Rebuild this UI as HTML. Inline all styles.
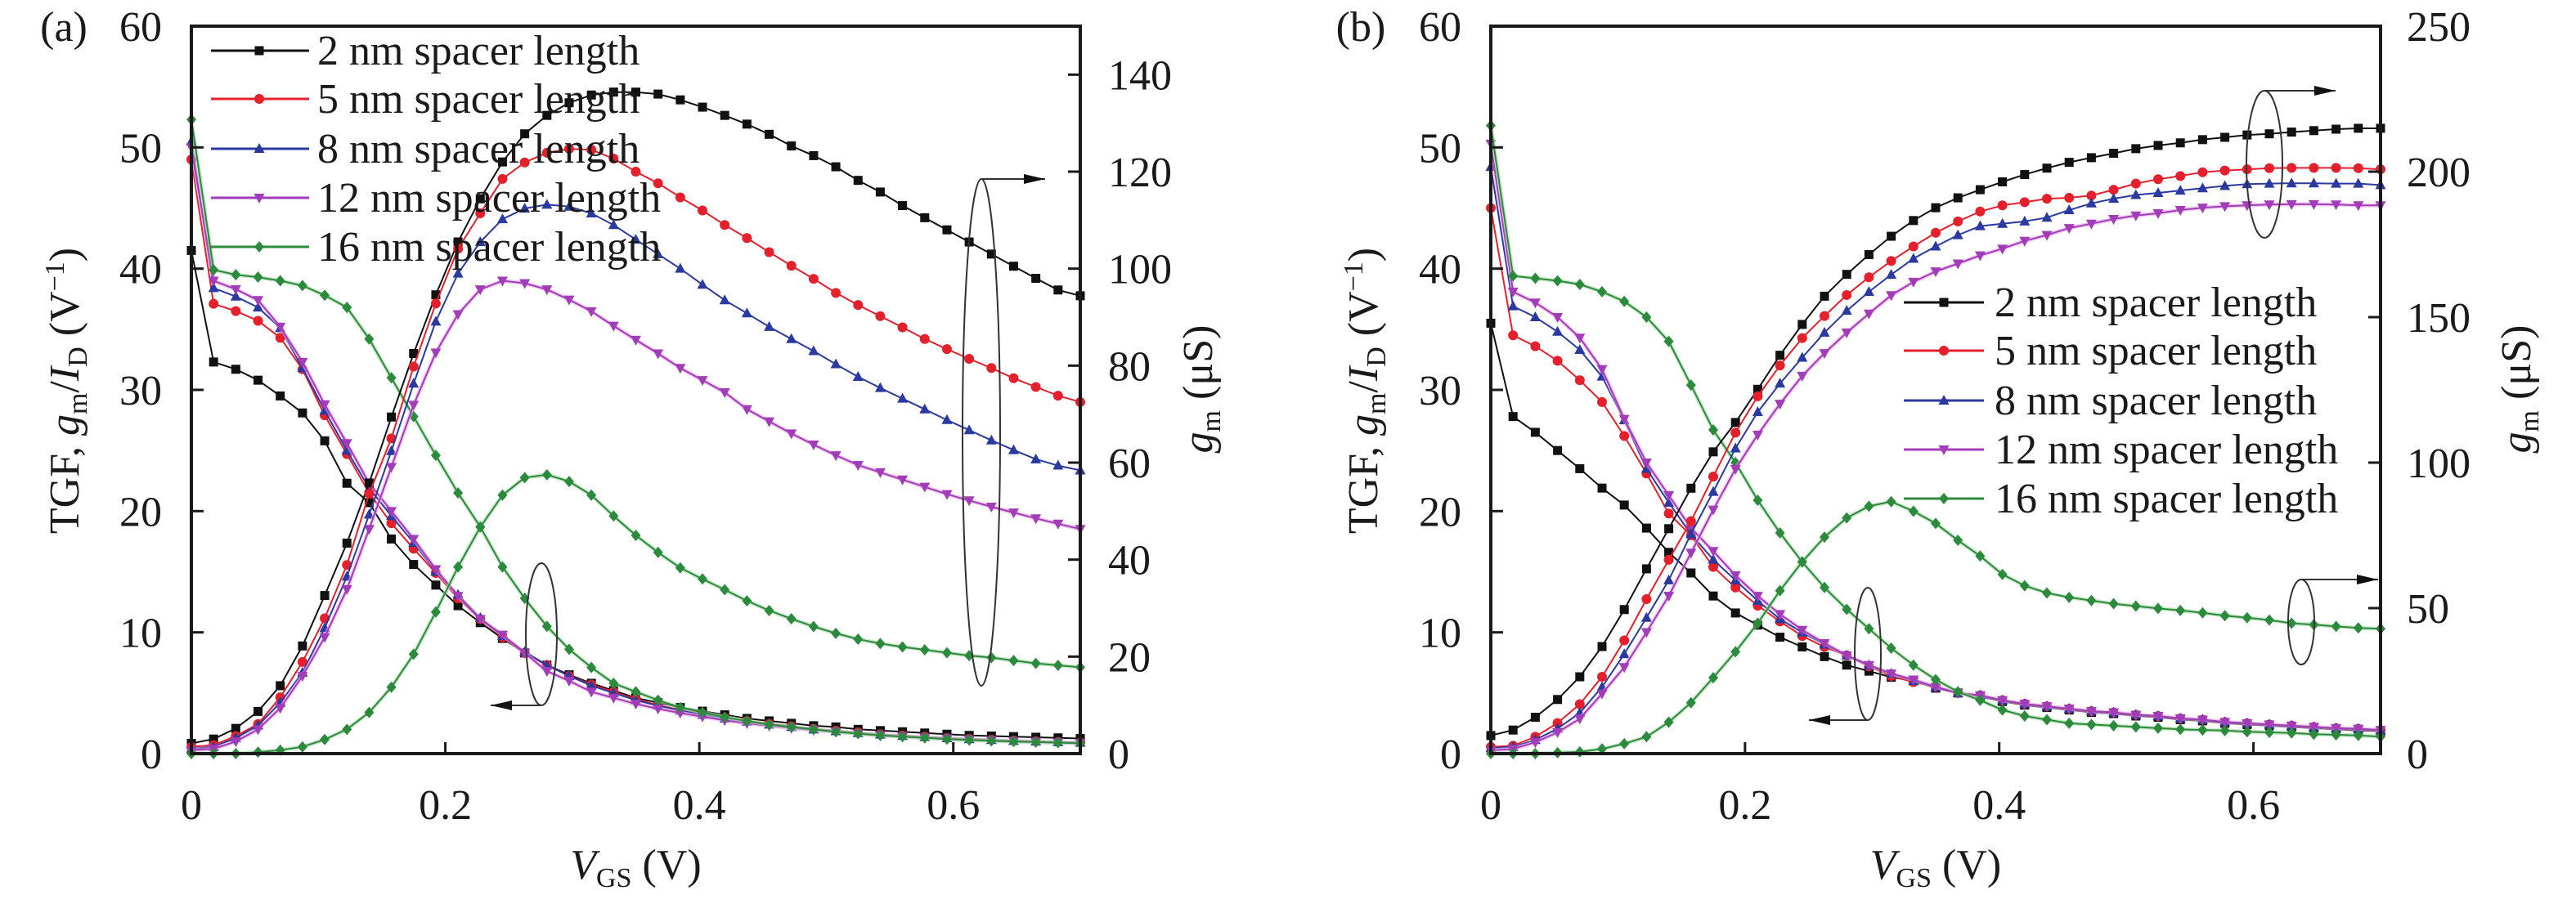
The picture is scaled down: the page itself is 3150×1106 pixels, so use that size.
<!DOCTYPE html>
<html><head><meta charset="utf-8"><style>
html,body{margin:0;padding:0;background:#fff;}
svg{display:block;font-family:"Liberation Serif",serif;}
</style></head><body>
<svg id="chart" width="3150" height="1106" viewBox="0 0 3150 1106" xmlns="http://www.w3.org/2000/svg"></svg>
<script>
const vgs = [0,0.0175,0.035,0.0525,0.07,0.0875,0.105,0.1225,0.14,0.1575,0.175,0.1925,0.21,0.2275,0.245,0.2625,0.28,0.2975,0.315,0.3325,0.35,0.3675,0.385,0.4025,0.42,0.4375,0.455,0.4725,0.49,0.5075,0.525,0.5425,0.56,0.5775,0.595,0.6125,0.63,0.6475,0.665,0.6825,0.7];
const seriesNames = ["2 nm spacer length","5 nm spacer length","8 nm spacer length","12 nm spacer length","16 nm spacer length"];
const xTicks = [0,0.2,0.4,0.6];
const xTickLabels = ["0","0.2","0.4","0.6"];
const leftTicks = [0,10,20,30,40,50,60];
const aRightTicks = [0,20,40,60,80,100,120,140];
const bRightTicks = [0,50,100,150,200,250];

const aTgf2 = [41.5,32.3,31.7,30.8,29.5,28.1,25.8,22.3,20.7,17.7,15.6,13.9,12.2,10.8,9.5,8.3,7.3,6.5,5.8,5.2,4.6,4.2,3.8,3.5,3.2,2.9,2.7,2.5,2.3,2.2,2.0,1.9,1.8,1.7,1.6,1.5,1.45,1.4,1.35,1.3,1.25];
const aTgf5 = [49,37.1,36.5,35.7,34.3,31.7,27.9,24.7,21.5,19.0,16.9,14.9,12.8,11.1,9.6,8.3,7.3,6.4,5.7,5.1,4.5,4.0,3.6,3.25,2.95,2.7,2.45,2.25,2.05,1.9,1.75,1.6,1.5,1.4,1.3,1.22,1.15,1.08,1.02,0.97,0.92];
const aTgf8 = [50.5,38.4,37.7,36.8,35.1,31.8,28.3,25.0,21.9,19.6,17.4,15.0,13.1,11.2,9.7,8.4,7.3,6.4,5.6,5.0,4.4,3.95,3.55,3.2,2.9,2.65,2.4,2.2,2.0,1.85,1.7,1.58,1.47,1.37,1.28,1.2,1.13,1.06,1.0,0.95,0.9];
const aTgf12 = [50,39,38.3,37.4,35.2,32.3,28.8,25.6,22.3,20.0,17.7,15.2,13.0,11.1,9.8,8.3,6.8,6.0,5.1,4.6,4.1,3.7,3.35,3.05,2.75,2.5,2.3,2.1,1.95,1.8,1.65,1.52,1.42,1.32,1.24,1.16,1.1,1.04,0.98,0.93,0.88];
const aTgf16 = [52.3,39.9,39.5,39.3,39.0,38.6,37.8,36.8,34.2,31.0,27.8,24.6,21.5,18.7,15.4,12.8,10.5,8.6,7.1,5.8,5.1,4.4,3.8,3.4,3.0,2.7,2.4,2.2,2.0,1.8,1.65,1.5,1.4,1.3,1.2,1.12,1.05,1.0,0.95,0.9,0.85];
const aGm2 = [2.1,3.0,5.2,8.7,14.0,22.2,32.6,43.4,55.8,69.4,82.5,94.6,105.5,114.4,122,127.8,131.6,134.2,135.8,136.4,136.4,136,134.8,133.3,131.6,129.8,127.7,125.3,123.3,121,118.2,115.8,113,110.5,108,105.5,103,100.5,98,95.6,94.4];
const aGm5 = [1.4,1.75,3.6,6.1,11.6,18.9,27.9,38.9,53.6,65,79.8,92.8,104.1,111.4,118.5,121.9,123.9,124.7,124.5,122.7,120,117.6,114.7,112,109,106.3,103.4,100.6,97.9,95,92.5,90.2,87.9,85.5,83.4,81.4,79.5,77.4,75.6,73.8,72.5];
const aGm8 = [1.0,1.4,3.2,5.8,10.5,16.7,25.9,36.5,49.3,62.4,76.3,89.1,99,105.5,110.2,112.4,113.2,112.8,111.4,109,106,103,100,96.7,93.5,90.8,88,85.5,83,80.3,77.7,75.4,73.2,71,68.8,66.7,64.6,62.6,60.7,59.4,58.4];
const aGm12 = [0.7,1.0,2.5,5.0,9.4,16,24,33.9,46.3,59.1,71.9,82.7,90.6,95.7,97.5,97,95.7,93.6,91.2,88.2,85.3,82.5,79.5,77,74.5,71,68.5,66,63.7,61.5,59.5,58,56.5,55,53.5,52.2,50.9,49.7,48.5,47.4,46.3];
const aGm16 = [0,0,0,0.3,0.7,1.4,2.9,5.0,8.5,13.7,20.5,29.2,38.5,46.7,53.3,56.9,57.5,56.1,53.3,49,45,41.5,38.3,36,33.8,31.5,29.5,27.8,26.2,24.8,23.6,22.7,22,21.4,20.8,20.2,19.8,19.2,18.6,18.2,17.8];

const bTgf2 = [35.5,27.8,26.5,25,23.5,21.9,20.5,18.6,16.6,14.9,13,11.6,10.6,9.6,8.8,8.0,7.3,6.8,6.3,6.0,5.4,5.0,4.7,4.3,4.0,3.8,3.6,3.4,3.3,3.1,3.0,2.8,2.7,2.5,2.4,2.3,2.2,2.1,2.0,1.9,1.85];
const bTgf5 = [45,34.5,33.6,32.4,30.8,29.0,26.2,23.1,19.8,18.0,15.4,13.7,12.2,10.9,9.7,8.8,8.1,7.2,6.4,5.9,5.5,5.0,4.8,4.4,4.1,3.9,3.7,3.5,3.4,3.2,3.1,2.9,2.8,2.6,2.5,2.4,2.3,2.2,2.1,2.05,1.95];
const bTgf8 = [48.4,36.9,36.0,34.8,33.3,31.1,27.5,23.5,20.7,18.1,16.0,14.3,12.6,11.1,10.0,9.0,8.1,7.3,6.6,6.0,5.5,5.0,4.8,4.4,4.1,3.9,3.7,3.5,3.4,3.2,3.1,2.9,2.8,2.6,2.5,2.4,2.3,2.2,2.1,2.05,1.95];
const bTgf12 = [50.3,38.1,37.2,36.0,34.3,31.7,27.6,24.0,21.3,18.6,16.7,14.7,13.0,11.5,10.2,9.1,8.1,7.3,6.6,6.1,5.5,5.0,4.8,4.4,4.1,3.9,3.7,3.5,3.4,3.2,3.1,2.9,2.8,2.6,2.5,2.4,2.3,2.2,2.1,2.05,1.95];
const bTgf16 = [51.8,39.4,39.2,39.0,38.7,38.1,37.3,36.0,34.0,30.4,26.7,24.0,20.9,18.2,15.8,13.7,11.9,10.3,8.7,7.3,6.1,5.1,4.4,3.6,3.1,2.8,2.5,2.4,2.3,2.2,2.1,2.0,1.95,1.9,1.8,1.75,1.7,1.6,1.55,1.5,1.4];
const bGm2 = [6.2,8.1,12.5,18.6,26.4,36.8,49.5,63.5,77.3,91.2,103.7,113.8,125.2,136.9,147.5,157.2,164.7,171.5,177.8,183.2,187.6,191,193.8,196.5,199,201.2,203.2,204.8,206.3,207.9,209,209.9,211,211.8,212.6,213,213.6,214.1,214.6,214.9,214.9];
const bGm5 = [2.3,2.7,5.8,10.5,17,26.4,38.9,53.1,66.6,79.9,95.2,110.3,122.8,133.4,142.8,150.4,157.6,163.7,169.3,174.3,179,182.9,186.3,188.4,189.5,190.7,191,191.8,193.8,195.9,197.4,198.5,199.8,200.4,200.8,201.2,201.3,201.3,201.3,201.2,200.8];
const bGm8 = [1.9,2.3,4.7,8.6,14,22.9,34.2,46.7,59.6,75.5,90,104.9,117.4,127.2,136.1,144.7,152.2,158.7,164.6,170.1,174.3,178.2,181.3,182.1,182.9,184.2,186.8,189.1,190.7,192,192.7,193.5,194.3,195.1,195.7,195.9,196,196,195.9,195.9,195.4];
const bGm12 = [1.1,1.6,3.9,7.3,12,20.6,29.7,41.7,54.2,69,83.8,97.8,109.6,120.2,129.8,137.6,144.7,151.2,157.5,162.1,165.7,168.4,171.2,173.5,176.2,178.2,180.6,182.1,183.7,184.9,185.7,186.8,187.6,188.1,188.4,188.7,188.8,188.8,188.7,188.4,188.4];
const bGm16 = [0,0,0,0.3,0.6,1.6,3.4,5.8,10.8,17.5,26.1,35,44.8,56,65.9,74.4,81,85,86.6,83.3,79.1,73.3,67.9,61.6,57.7,55.2,53.7,52.6,51.5,50.7,49.9,49.2,48.4,47.4,46.7,45.9,44.8,44.3,43.7,43.2,42.9];

const NS = "http://www.w3.org/2000/svg";
const svg = document.getElementById('chart');
const colors = ["#111111","#e3202c","#2a3aa0","#a23cb8","#2b8a3c"];
const glows = ["none","none","none","#e9a6e9","#a8d8a8"];
const shapes = ["square","circle","tri-up","tri-down","diamond"];

function el(tag, attrs, parent){
  const e = document.createElementNS(NS, tag);
  for (const k in attrs) e.setAttribute(k, attrs[k]);
  (parent||svg).appendChild(e);
  return e;
}
function marker(g, shape, x, y, c){
  let m;
  if (shape==="square") m = el('rect',{x:x-5.5,y:y-5.5,width:11,height:11,fill:c},g);
  else if (shape==="circle") m = el('circle',{cx:x,cy:y,r:6,fill:c},g);
  else if (shape==="tri-up") m = el('polygon',{points:`${x},${y-7} ${x-6.5},${y+5} ${x+6.5},${y+5}`,fill:c},g);
  else if (shape==="tri-down") m = el('polygon',{points:`${x},${y+7} ${x-6.5},${y-5} ${x+6.5},${y-5}`,fill:c},g);
  else m = el('polygon',{points:`${x},${y-7} ${x+6},${y} ${x},${y+7} ${x-6},${y}`,fill:c},g);
  return m;
}

function panel(p){
  const L=p.L,R=p.R,T=32,B=922;
  const xs = v => L + v/0.7*(R-L);
  const yl = v => B - v/60*(B-T);
  const yr = v => B - v/p.rmax*(B-T);
  const g = el('g',{});
  
  

  // series
  const sets = [[p.tgf, yl, 'tgf'], [p.gm, yr, 'gm']];
  sets.forEach(([arrs, yf, kind])=>{
    arrs.forEach((arr, si)=>{
      const sg = el('g',{},g);
      
      
      const pts = arr.map((v,i)=>`${xs(vgs[i]).toFixed(1)},${yf(v).toFixed(1)}`).join(' ');
      if (glows[si]!=="none") el('polyline',{points:pts,fill:'none',stroke:glows[si],'stroke-width':5,'stroke-opacity':0.6},sg);
      el('polyline',{points:pts,fill:'none',stroke:colors[si],'stroke-width':2},sg);
      arr.forEach((v,i)=>{
        const m = marker(sg, shapes[si], xs(vgs[i]), yf(v), colors[si]);
        
        
      });
    });
  });

  // frame
  const fr = el('rect',{x:L,y:T,width:R-L,height:B-T,fill:'none',stroke:'#1a1a1a','stroke-width':4},g);
  
  

  // ticks
  const tk = el('g',{'font-size':52,fill:'#1a1a1a'},g);
  
  
  xTicks.forEach((v,i)=>{
    if (v>0) el('line',{x1:xs(v),x2:xs(v),y1:B,y2:B-14,stroke:'#1a1a1a','stroke-width':3},tk);
    const t = el('text',{x:xs(v),y:B+80,'text-anchor':'middle'},tk);
    t.textContent = xTickLabels[i];
    
    
  });
  leftTicks.forEach(v=>{
    if (v>0 && v<60) el('line',{x1:L,x2:L+15,y1:yl(v),y2:yl(v),stroke:'#1a1a1a','stroke-width':3},tk);
    const t = el('text',{x:p.lx,y:yl(v)+18,'text-anchor':'end'},tk);
    t.textContent = String(v);
    
    
  });
  p.rticks.forEach(v=>{
    if (v>0 && v<p.rmax) el('line',{x1:R,x2:R-15,y1:yr(v),y2:yr(v),stroke:'#1a1a1a','stroke-width':3},tk);
    const t = el('text',{x:p.rx,y:yr(v)+18,'text-anchor':'start'},tk);
    t.textContent = String(v);
    
    
  });

  // titles
  const xt = el('text',{x:(L+R)/2,y:1075,'text-anchor':'middle','font-size':52,fill:'#1a1a1a'},g);
  
  
  xt.innerHTML = '<tspan font-style="italic">V</tspan><tspan font-size="34" dy="10">GS</tspan><tspan dy="-10"> (V)</tspan>';
  const ylt = el('text',{x:0,y:0,'text-anchor':'middle','font-size':52,fill:'#1a1a1a',transform:`translate(${p.ltx},478) rotate(-90)`},g);
  
  
  ylt.innerHTML = 'TGF, <tspan font-style="italic">g</tspan><tspan font-size="34" dy="10">m</tspan><tspan dy="-10">/</tspan><tspan font-style="italic">I</tspan><tspan font-size="34" dy="10">D</tspan><tspan dy="-10"> (V</tspan><tspan font-size="34" dy="-18">−1</tspan><tspan dy="18">)</tspan>';
  const yrt = el('text',{x:0,y:0,'text-anchor':'middle','font-size':52,fill:'#1a1a1a',transform:`translate(${p.rtx},476) rotate(-90)`},g);
  
  
  yrt.innerHTML = '<tspan font-style="italic">g</tspan><tspan font-size="34" dy="10">m</tspan><tspan dy="-10"> (μS)</tspan>';
  const pl = el('text',{x:p.labx,y:50,'text-anchor':'middle','font-size':52,fill:'#1a1a1a'},g);
  pl.textContent = p.label;
  
  

  // legend
  const lg = el('g',{},g);
  
  
  seriesNames.forEach((n,si)=>{
    const y = p.legY[si];
    const e = el('g',{},lg);
    
    
    el('line',{x1:p.legL1,x2:p.legL2,y1:y,y2:y,stroke:colors[si],'stroke-width':3},e);
    marker(e, shapes[si], p.legM, y, colors[si]);
    const t = el('text',{x:p.legT,y:y+17,'font-size':52,fill:'#1a1a1a'},e);
    t.textContent = n;
  });

  // annotations
  const an = el('g',{fill:'none',stroke:'#333','stroke-width':2},g);
  
  
  p.ann.forEach(a=>{
    el('ellipse',{cx:a.cx,cy:a.cy,rx:a.rx,ry:a.ry},an);
    const ay = a.dir==='left' ? a.cy+a.ry : a.cy-a.ry;
    el('line',{x1:a.cx,y1:ay,x2:a.tx,y2:ay},an);
    const s = a.dir==='left' ? 1 : -1;
    el('polygon',{points:`${a.tx},${ay} ${a.tx+s*26},${ay-6} ${a.tx+s*26},${ay+6}`,fill:'#111',stroke:'none'},an);
  });
}

panel({id:'a',L:234,R:1321,rmax:150,rticks:aRightTicks,tgf:[aTgf2,aTgf5,aTgf8,aTgf12,aTgf16],gm:[aGm2,aGm5,aGm8,aGm12,aGm16],
  lx:198,rx:1355,ltx:96,rtx:1482,labx:78,label:'(a)',
  legY:[62,121,182,242,302],legL1:258,legL2:378,legM:317,legT:388,
  ann:[{cx:1200,cy:529,rx:23,ry:310,tx:1278,dir:'right'},{cx:662,cy:776,rx:19,ry:87,tx:600,dir:'left'}]});
panel({id:'b',L:1823,R:2911,rmax:250,rticks:bRightTicks,tgf:[bTgf2,bTgf5,bTgf8,bTgf12,bTgf16],gm:[bGm2,bGm5,bGm8,bGm12,bGm16],
  lx:1787,rx:2943,ltx:1684,rtx:3094,labx:1664,label:'(b)',
  legY:[370,429,490,550,610],legL1:2328,legL2:2426,legM:2377,legT:2439,
  ann:[{cx:2769,cy:201,rx:22,ry:90,tx:2856,dir:'right'},{cx:2814,cy:761,rx:16,ry:52,tx:2908,dir:'right'},{cx:2284,cy:800,rx:16,ry:81,tx:2212,dir:'left'}]});
</script>
</body></html>
